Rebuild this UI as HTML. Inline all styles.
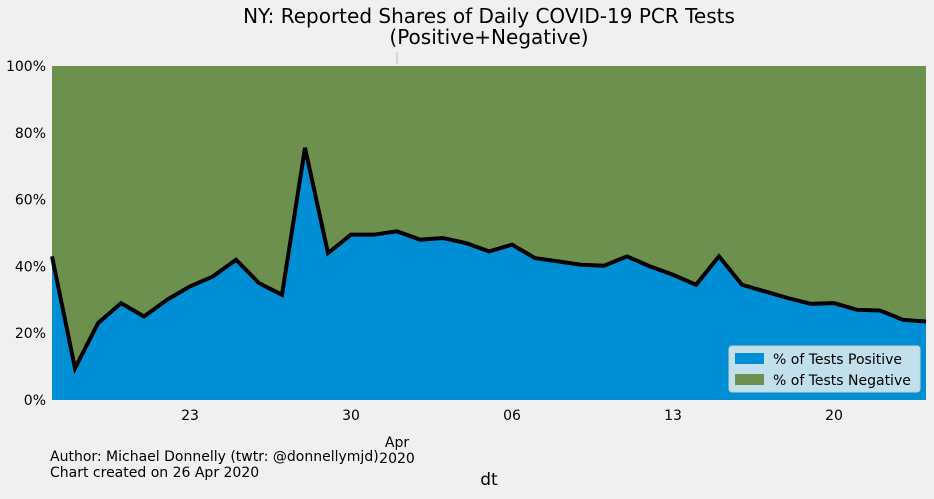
<!DOCTYPE html>
<html><head><meta charset="utf-8"><style>
body{margin:0;background:#f0f0f0;font-family:"DejaVu Sans","Liberation Sans",sans-serif;}
svg text{font-family:"DejaVu Sans","Liberation Sans",sans-serif;}
</style></head><body>
<svg id="c" width="934" height="495">
<rect width="934" height="495" fill="#f0f0f0"/>
<text x="489" y="23" font-size="20" text-anchor="middle" fill="#000">NY: Reported Shares of Daily COVID-19 PCR Tests</text>
<text x="489" y="44" font-size="20" text-anchor="middle" fill="#000">(Positive+Negative)</text>
<g id="plot"></g>
<g>
<rect x="729" y="346" width="191" height="46" rx="3" fill="#c2dfec" stroke="#ccc"/>
<rect x="735" y="353" width="29" height="11" fill="#008fd5"/>
<text x="773" y="364" font-size="14">% of Tests Positive</text>
<rect x="735" y="374" width="29" height="11" fill="#6d904f"/>
<text x="773" y="385" font-size="14">% of Tests Negative</text>
</g>
<text x="489" y="485" font-size="17" text-anchor="middle">dt</text>
<text x="50" y="461" font-size="14">Author: Michael Donnelly (twtr: @donnellymjd)</text>
<text x="50" y="477" font-size="14">Chart created on 26 Apr 2020</text>
</svg>
<script>
const dates=["Mar 17","Mar 18","Mar 19","Mar 20","Mar 21","Mar 22","Mar 23","Mar 24","Mar 25","Mar 26","Mar 27","Mar 28","Mar 29","Mar 30","Mar 31","Apr 1","Apr 2","Apr 3","Apr 4","Apr 5","Apr 6","Apr 7","Apr 8","Apr 9","Apr 10","Apr 11","Apr 12","Apr 13","Apr 14","Apr 15","Apr 16","Apr 17","Apr 18","Apr 19","Apr 20","Apr 21","Apr 22","Apr 23","Apr 24"];
const positivePct=[43,9.5,23,29,25,30,34,37,42,35,31.5,75.5,44,49.5,49.5,50.5,48,48.5,47,44.5,46.5,42.5,41.5,40.5,40.2,43,40,37.5,34.5,43,34.5,32.5,30.5,28.8,29,27,26.8,24,23.5];
const yTicks=[0,20,40,60,80,100];
const xTickIdx=[6,13,20,27,34];
const xTickLabels=["23","30","06","13","20"];
const L=52,R=926,T=66,B=400;
const x=i=>L+i*(R-L)/(dates.length-1);
const y=v=>B-v/100*(B-T);
const g=document.getElementById('plot');
const NS='http://www.w3.org/2000/svg';
function mk(t,a){const e=document.createElementNS(NS,t);for(const k in a)e.setAttribute(k,a[k]);g.appendChild(e);return e;}
const neg=mk('rect',{x:L,y:T,width:R-L,height:B-T,fill:'#6d904f'});


let pts=positivePct.map((v,i)=>x(i)+','+y(v));
const pos=mk('polygon',{points:L+','+B+' '+pts.join(' ')+' '+R+','+B,fill:'#008fd5'});


const line=mk('polyline',{points:pts.join(' '),fill:'none',stroke:'#000',"stroke-width":4,"stroke-linejoin":'miter'});


yTicks.forEach(v=>{const t=mk('text',{x:46,y:y(v)+5,"font-size":14,"text-anchor":'end'});t.textContent=v+'%';

});
xTickIdx.forEach((idx,k)=>{const t=mk('text',{x:x(idx),y:420,"font-size":14,"text-anchor":'middle'});t.textContent=xTickLabels[k];

});
const ax=x(15);
mk('line',{x1:ax,x2:ax,y1:52,y2:64,stroke:'#bbb'});
const a1=mk('text',{x:ax,y:447,"font-size":14,"text-anchor":'middle'});a1.textContent='Apr';


const a2=mk('text',{x:ax,y:463,"font-size":14,"text-anchor":'middle'});a2.textContent='2020';


</script>
</body></html>
